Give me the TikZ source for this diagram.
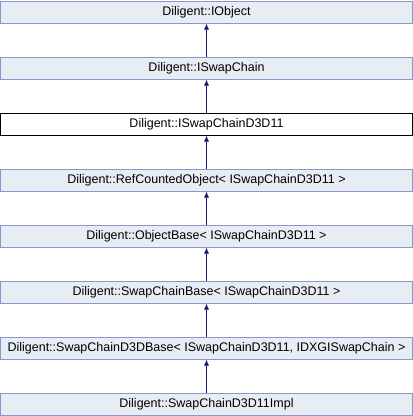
\documentclass[tikz,border=0pt]{standalone}
\usepackage{fontspec}
\setmainfont{Liberation Sans}
\usepackage{tikz}
\usetikzlibrary{positioning,arrows.meta}

\definecolor{boxfill}{RGB}{232,236,244}
\definecolor{boxline}{RGB}{132,154,204}
\definecolor{edgeblue}{RGB}{25,25,112}

\begin{document}
\begin{tikzpicture}[
  font=\fontsize{12.5}{14}\selectfont,
  cls/.style={draw=boxline, fill=boxfill, line width=1pt, minimum width=412pt, minimum height=22pt, inner sep=0pt, anchor=north},
  cur/.style={cls, draw=black, fill=white},
  inh/.style={draw=edgeblue, line width=1pt, -{Latex[length=6pt,width=5pt]}},
  node distance=33pt
]
\useasboundingbox (0,0) rectangle (413pt,-416pt);
\node[cls] (n0) at (206.5pt,-0.5pt) {Diligent::IObject};
\node[cls, below=of n0] (n1) {Diligent::ISwapChain};
\node[cur, below=of n1] (n2) {Diligent::ISwapChainD3D11};
\node[cls, below=of n2] (n3) {Diligent::RefCountedObject< ISwapChainD3D11 >};
\node[cls, below=of n3] (n4) {Diligent::ObjectBase< ISwapChainD3D11 >};
\node[cls, below=of n4] (n5) {Diligent::SwapChainBase< ISwapChainD3D11 >};
\node[cls, below=of n5] (n6) {Diligent::SwapChainD3DBase< ISwapChainD3D11, IDXGISwapChain >};
\node[cls, below=of n6] (n7) {Diligent::SwapChainD3D11Impl};
% inheritance edges
\foreach \a/\b in {n1/n0,n2/n1,n3/n2,n4/n3,n5/n4,n6/n5,n7/n6}
  \draw[inh] (\a) -- (\b);
\end{tikzpicture}
\end{document}
